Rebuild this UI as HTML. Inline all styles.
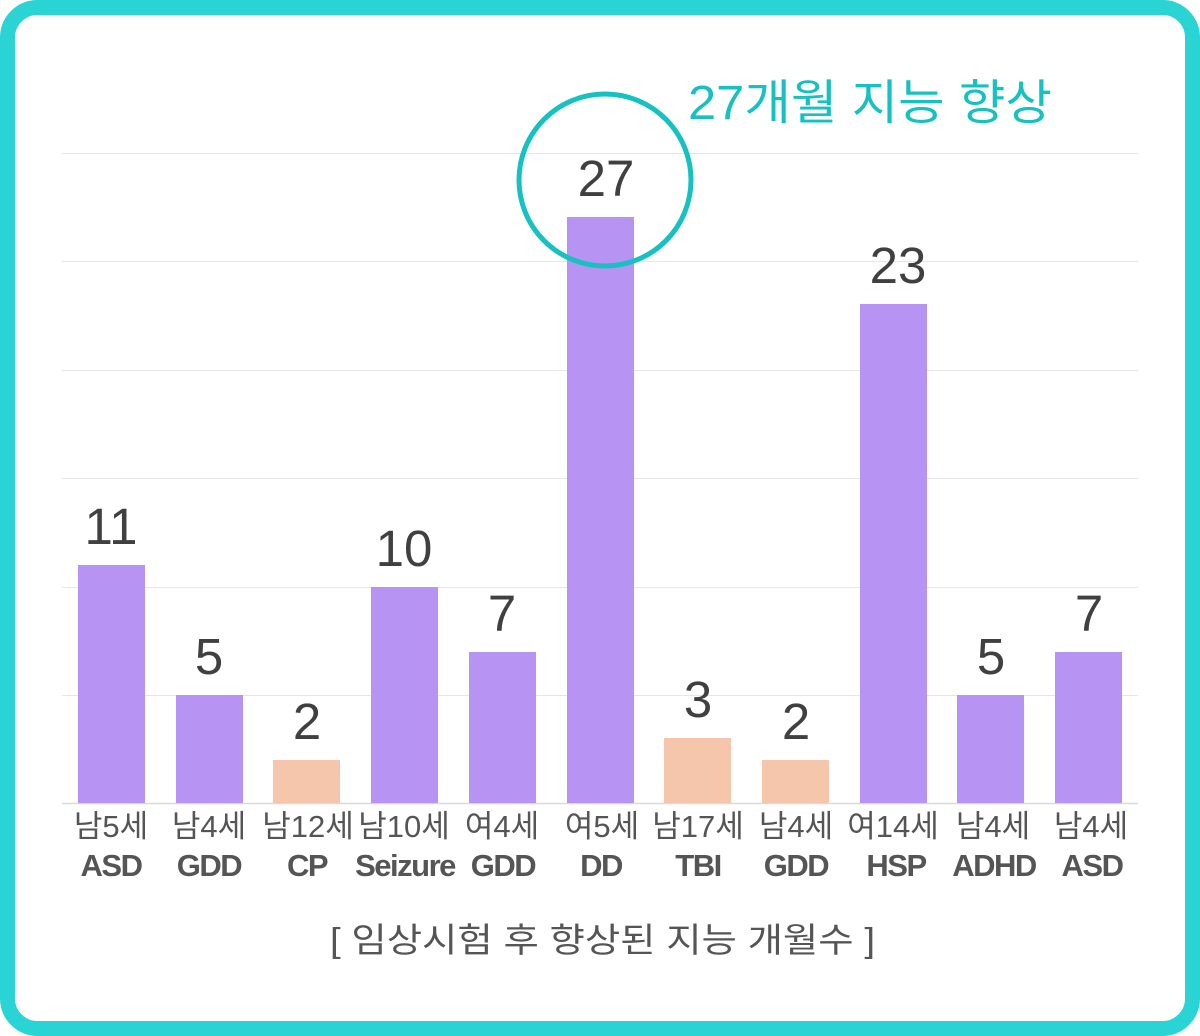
<!DOCTYPE html>
<html><head><meta charset="utf-8"><style>
html,body{margin:0;padding:0;background:#fff;}
svg{display:block;}
</style></head><body>
<svg width="1200" height="1036" viewBox="0 0 1200 1036" xmlns="http://www.w3.org/2000/svg" font-family="Liberation Sans, Noto Sans CJK KR, sans-serif">
<rect x="7.5" y="7.5" width="1185" height="1021" rx="30" ry="30" fill="#fff" stroke="#2ad4d4" stroke-width="15"/>
<g stroke="#e6e6e6" stroke-width="1">
<line x1="62" x2="1138" y1="153.5" y2="153.5"/>
<line x1="62" x2="1138" y1="261.5" y2="261.5"/>
<line x1="62" x2="1138" y1="370.5" y2="370.5"/>
<line x1="62" x2="1138" y1="478.5" y2="478.5"/>
<line x1="62" x2="1138" y1="587.5" y2="587.5"/>
<line x1="62" x2="1138" y1="695.5" y2="695.5"/>
</g>
<line x1="62" x2="1138" y1="803.5" y2="803.5" stroke="#d9d9d9" stroke-width="1.5"/>
<g>
<rect x="78" y="565" width="67" height="238" fill="#b794f4"/>
<rect x="176" y="695" width="67" height="108" fill="#b794f4"/>
<rect x="273" y="760" width="67" height="43" fill="#f5c6ac"/>
<rect x="371" y="587" width="67" height="216" fill="#b794f4"/>
<rect x="469" y="652" width="67" height="151" fill="#b794f4"/>
<rect x="567" y="217" width="67" height="586" fill="#b794f4"/>
<rect x="664" y="738" width="67" height="65" fill="#f5c6ac"/>
<rect x="762" y="760" width="67" height="43" fill="#f5c6ac"/>
<rect x="860" y="304" width="67" height="499" fill="#b794f4"/>
<rect x="957" y="695" width="67" height="108" fill="#b794f4"/>
<rect x="1055" y="652" width="67" height="151" fill="#b794f4"/>
</g>
<g font-size="51" fill="#404040" text-anchor="middle">
<text x="111" y="544">11</text>
<text x="209" y="674">5</text>
<text x="307" y="739">2</text>
<text x="404" y="566">10</text>
<text x="502" y="631">7</text>
<text x="606" y="196">27</text>
<text x="698" y="717">3</text>
<text x="796" y="739">2</text>
<text x="898" y="283">23</text>
<text x="991" y="674">5</text>
<text x="1089" y="631">7</text>
</g>
<circle cx="605" cy="180" r="86" fill="none" stroke="#16c1c1" stroke-width="5"/>
<text x="688" y="119" font-size="48" fill="#16c1c1" textLength="364" lengthAdjust="spacingAndGlyphs">27개월 지능 향상</text>
<g font-size="31" fill="#555" text-anchor="middle">
<text x="111" y="837">남5세</text>
<text x="209" y="837">남4세</text>
<text x="308" y="837">남12세</text>
<text x="404" y="837">남10세</text>
<text x="502" y="837">여4세</text>
<text x="602" y="837">여5세</text>
<text x="698" y="837">남17세</text>
<text x="796" y="837">남4세</text>
<text x="893" y="837">여14세</text>
<text x="993" y="837">남4세</text>
<text x="1091" y="837">남4세</text>
</g>
<g font-size="31" font-weight="bold" fill="#555" text-anchor="middle" letter-spacing="-1.5">
<text x="111" y="876">ASD</text>
<text x="209" y="876">GDD</text>
<text x="307" y="876">CP</text>
<text x="405" y="876">Seizure</text>
<text x="503" y="876">GDD</text>
<text x="601" y="876">DD</text>
<text x="698" y="876">TBI</text>
<text x="796" y="876">GDD</text>
<text x="896" y="876">HSP</text>
<text x="994" y="876">ADHD</text>
<text x="1092" y="876">ASD</text>
</g>
<text x="330" y="952" font-size="34" fill="#555" textLength="545" lengthAdjust="spacingAndGlyphs">[ 임상시험 후 향상된 지능 개월수 ]</text>
</svg>
</body></html>
